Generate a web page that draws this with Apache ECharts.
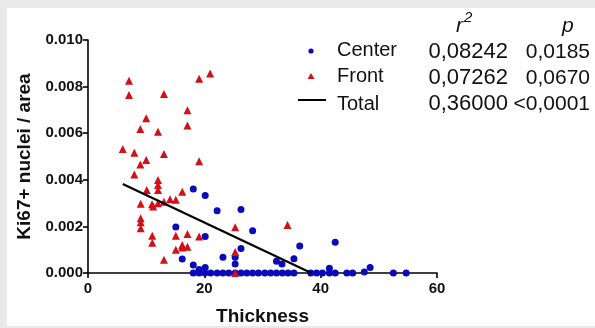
<!DOCTYPE html>
<html>
<head>
<meta charset="utf-8">
<script src="https://cdn.jsdelivr.net/npm/echarts@6/dist/echarts.min.js"></script>
<style>
  html, body { margin: 0; padding: 0; background: #e9e9e9; }
  #chart { width: 595px; height: 328px; }
</style>
</head>
<body>
<div id="chart"></div>
<script>
// Center: [thickness, Ki67+ nuclei / area]
const centerPoints = [
  [18.1, 0.00360], [20.15, 0.00333], [22.2, 0.00267], [26.3, 0.00273], [28.3, 0.00181],
  [15.1, 0.00197], [20.15, 0.00157], [26.3, 0.00105], [23.2, 0.00068], [25.3, 0.00068],
  [25.3, 0.00039], [16.2, 0.00060], [18.1, 0.00034], [19.1, 0.00015], [20.15, 0.00024],
  [32.4, 0.00050], [33.35, 0.00039], [35.4, 0.00061], [36.4, 0.00116], [42.5, 0.00132],
  [41.5, 0.00020], [48.5, 0.00024], [47.5, 0.00004],
  [18.1, 0], [19.1, 0], [20.1, 0], [21.1, 0], [22.2, 0], [23.2, 0], [24.2, 0], [25.3, 0],
  [26.3, 0], [27.3, 0], [28.3, 0], [29.3, 0], [30.4, 0], [31.4, 0], [32.4, 0], [33.4, 0],
  [34.4, 0], [35.4, 0], [38.3, 0], [39.3, 0], [40.3, 0], [41.5, 0], [42.5, 0], [44.5, 0],
  [45.5, 0], [52.5, 0], [54.7, 0]
];

// Front: [thickness, Ki67+ nuclei / area]
const frontPoints = [
  [5.97, 0.00532], [7.05, 0.00825], [7.05, 0.00764], [7.96, 0.00516], [7.96, 0.00423],
  [8.99, 0.00618], [8.99, 0.00466], [10.0, 0.00664], [10.0, 0.00485], [10.1, 0.00356],
  [9.06, 0.00297], [11.0, 0.00295], [11.2, 0.00285], [12.03, 0.00399], [12.03, 0.00378],
  [12.03, 0.00356], [12.03, 0.00299], [12.03, 0.00606], [13.06, 0.00768], [13.06, 0.00511],
  [13.06, 0.00306], [13.06, 0.00057], [14.1, 0.00317], [15.1, 0.00314], [16.2, 0.00349],
  [9.06, 0.00235], [9.06, 0.00218], [9.06, 0.00192], [11.05, 0.00160], [11.05, 0.00130],
  [15.1, 0.00160], [17.1, 0.00167], [19.1, 0.00157], [15.1, 0.00100], [16.2, 0.00120],
  [16.2, 0.00109], [17.1, 0.00113], [17.1, 0.00699], [17.1, 0.00633], [19.1, 0.00834],
  [21.0, 0.00856], [19.1, 0.00480], [25.3, 0.00196], [25.3, 0.00090], [25.3, 0.0],
  [34.3, 0.00206]
];

// Total regression line end points
const totalLine = [[5.97, 0.00382], [38.4, 0]];

const seriesNames = ['Center', 'Front', 'Total'];
const r2Values = ['0,08242', '0,07262', '0,36000'];
const pValues = ['0,0185', '0,0670', '<0,0001'];

const xTicks = [0, 20, 40, 60];
const yTicks = [0, 0.002, 0.004, 0.006, 0.008, 0.010];

const BLUE = '#0a0ab8';
const RED = '#d40f17';
const FONT = 'Liberation Sans, Arial, sans-serif';

const chart = echarts.init(document.getElementById('chart'), null, { renderer: 'canvas' });

// legend / stats table drawn as graphic
const rowY = [50, 76, 102];
const mid = { textVerticalAlign: 'middle', verticalAlign: 'middle' };
const legendGraphics = [
  { type: 'rect', left: 7, top: 8, shape: { width: 588, height: 318 }, style: { fill: '#fff' }, z: -10, silent: true },
  { type: 'text', x: 456, y: 26, style: { text: 'r', font: 'italic 21px ' + FONT, fill: '#111', ...mid } },
  { type: 'text', x: 464, y: 18, style: { text: '2', font: 'italic 15px ' + FONT, fill: '#111', ...mid } },
  { type: 'text', x: 562, y: 26, style: { text: 'p', font: 'italic 21px ' + FONT, fill: '#111', ...mid } },
  { type: 'circle', shape: { cx: 311, cy: 51, r: 2.6 }, style: { fill: BLUE } },
  { type: 'polygon', shape: { points: [[311, 73], [307.5, 79], [314.5, 79]] }, style: { fill: RED } },
  { type: 'line', shape: { x1: 298, y1: 100, x2: 326, y2: 100 }, style: { stroke: '#000', lineWidth: 2 } }
];
seriesNames.forEach((name, i) => {
  legendGraphics.push({
    type: 'text', x: 337, y: rowY[i] + (i === 2 ? 2 : 0),
    style: { text: name, font: '20px ' + FONT, fill: '#111', ...mid }
  });
  legendGraphics.push({
    type: 'text', x: 508, y: rowY[i] + 2,
    style: { text: r2Values[i], font: '22px ' + FONT, fill: '#111', textAlign: 'right', align: 'right', ...mid }
  });
  legendGraphics.push({
    type: 'text', x: 590, y: rowY[i] + 2,
    style: { text: pValues[i], font: '21px ' + FONT, fill: '#111', textAlign: 'right', align: 'right', ...mid }
  });
});

const axisCommon = {
  axisLine: { show: true, onZero: false, lineStyle: { color: '#000', width: 1.6 } },
  axisTick: { show: true, inside: false, length: 5, lineStyle: { color: '#000', width: 1.6 } },
  splitLine: { show: false },
  axisLabel: { color: '#111', fontWeight: 'bold', fontSize: 15, fontFamily: FONT }
};

const option = {
  animation: false,
  backgroundColor: 'transparent',
  grid: { left: 88, right: 158, top: 40, bottom: 55, containLabel: false, outerBoundsMode: 'none' },
  xAxis: {
    type: 'value',
    min: xTicks[0],
    max: xTicks[xTicks.length - 1],
    interval: 20,
    name: 'Thickness',
    nameLocation: 'middle',
    nameGap: 34,
    nameTextStyle: { color: '#111', fontWeight: 'bold', fontSize: 19, fontFamily: FONT },
    ...axisCommon,
    axisLabel: { ...axisCommon.axisLabel, margin: 8 }
  },
  yAxis: {
    type: 'value',
    min: yTicks[0],
    max: yTicks[yTicks.length - 1],
    interval: 0.002,
    name: 'Ki67+ nuclei / area',
    nameLocation: 'middle',
    nameGap: 54,
    nameTextStyle: { color: '#111', fontWeight: 'bold', fontSize: 19, fontFamily: FONT },
    ...axisCommon,
    axisLabel: { ...axisCommon.axisLabel, margin: 5, formatter: v => v.toFixed(3) }
  },
  graphic: legendGraphics,
  series: [
    {
      name: 'Center',
      type: 'scatter',
      data: centerPoints,
      symbol: 'circle',
      symbolSize: 7,
      clip: false,
      itemStyle: { color: BLUE, opacity: 1 },
      z: 3
    },
    {
      name: 'Front',
      type: 'scatter',
      data: frontPoints,
      symbol: 'triangle',
      symbolSize: 8,
      clip: false,
      itemStyle: { color: RED, opacity: 1 },
      z: 4
    },
    {
      name: 'Total',
      type: 'line',
      data: totalLine,
      symbol: 'none',
      lineStyle: { color: '#000', width: 2.2 },
      z: 5
    }
  ]
};

chart.setOption(option);
</script>
</body>
</html>
